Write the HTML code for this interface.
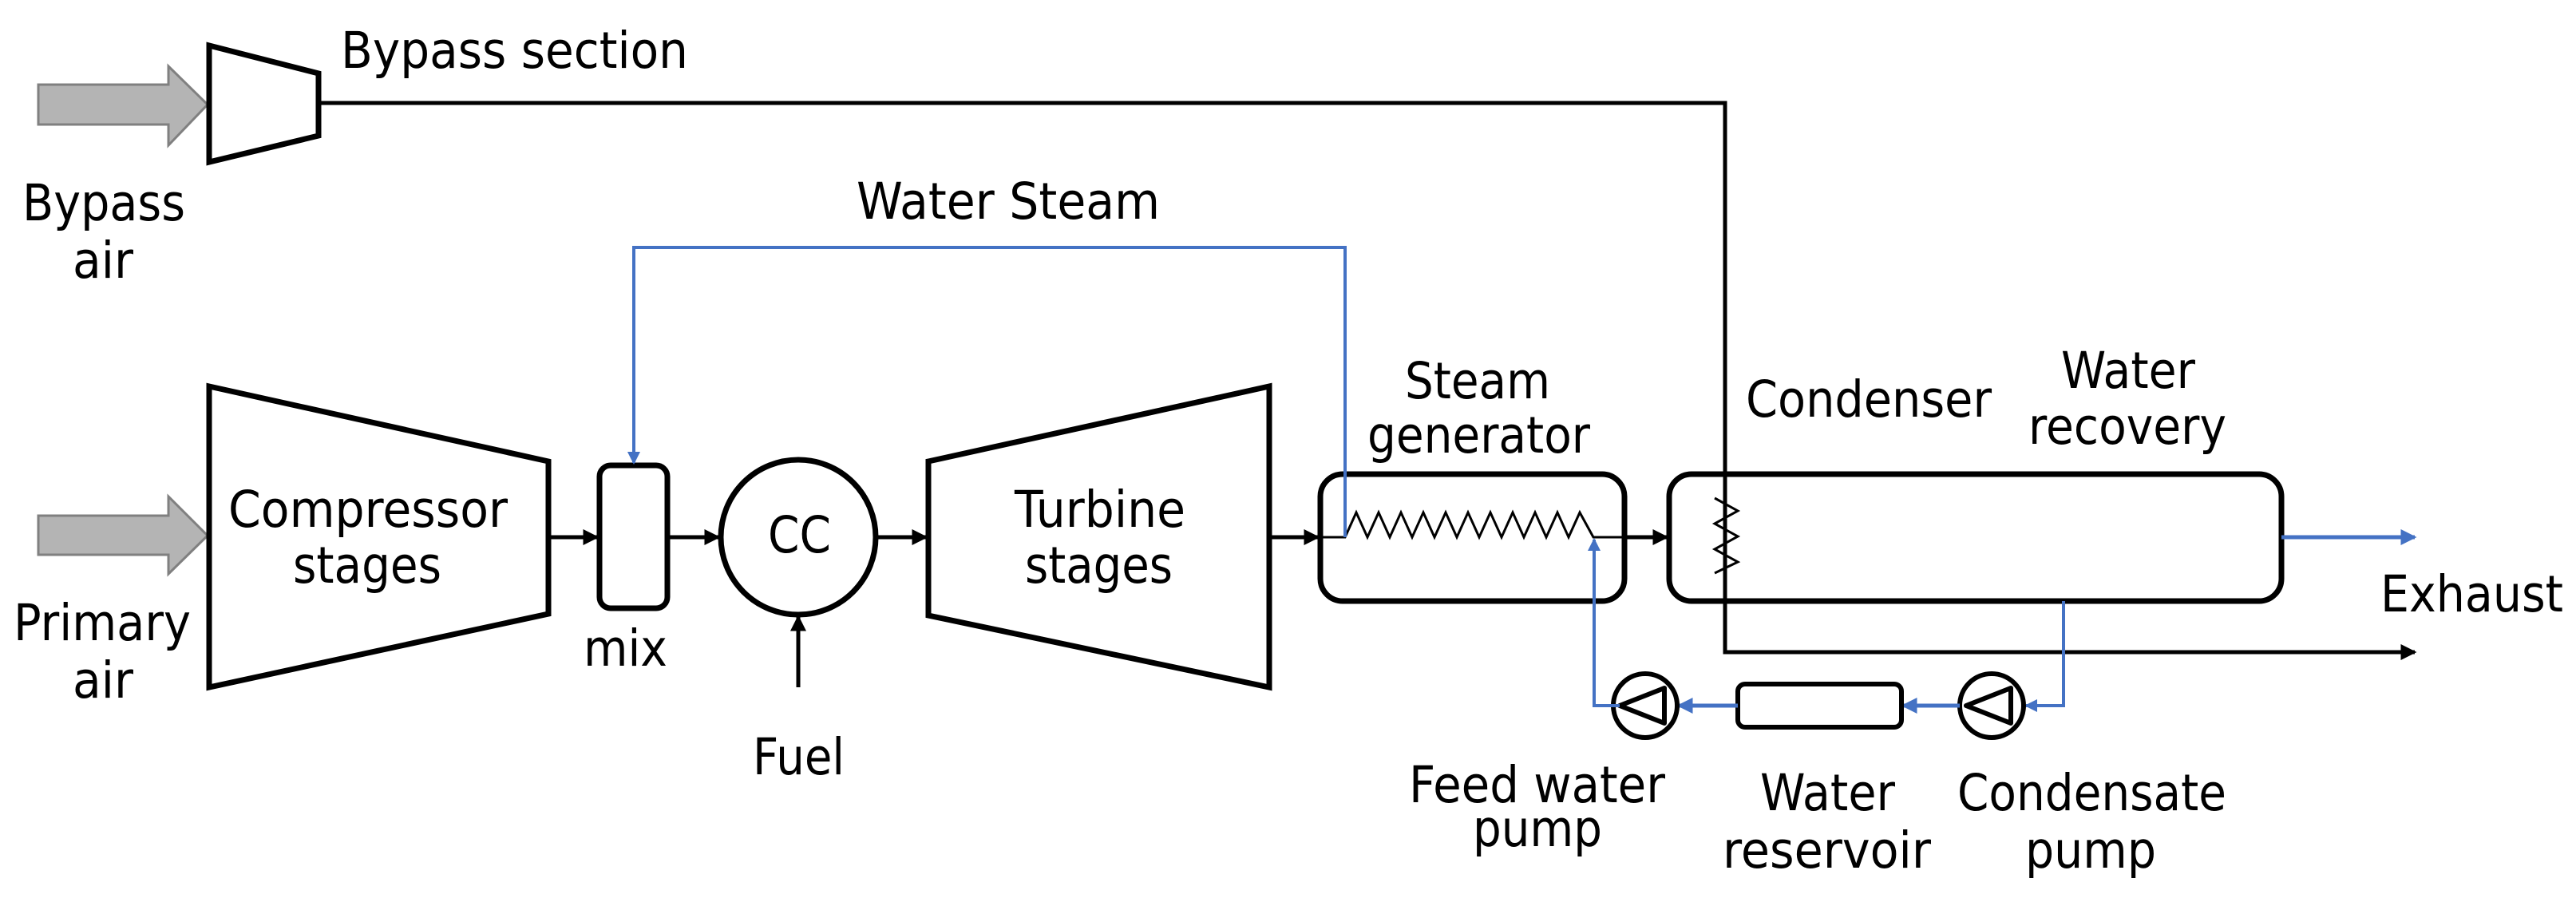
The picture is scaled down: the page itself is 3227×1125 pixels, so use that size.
<!DOCTYPE html>
<html><head><meta charset="utf-8"><style>
html,body{margin:0;padding:0;background:#fff;}
svg{display:block;}
text{font-family:"DejaVu Sans","Liberation Sans",sans-serif;font-size:63px;fill:#000;}
</style></head><body>
<svg width="3227" height="1125" viewBox="0 0 3227 1125" xmlns="http://www.w3.org/2000/svg">
<defs>
<marker id="ab" markerWidth="4" markerHeight="4" refX="3.5" refY="2" orient="auto" markerUnits="strokeWidth"><path d="M0,0 L4,2 L0,4 z" fill="#000"/></marker>
<marker id="abl" markerWidth="4" markerHeight="4" refX="3.5" refY="2" orient="auto" markerUnits="strokeWidth"><path d="M0,0 L4,2 L0,4 z" fill="#4472C4"/></marker>
</defs>
<polygon points="48,106 211,106 211,83 260,131 211,182 211,156 48,156" fill="#b4b4b4" stroke="#808080" stroke-width="3"/>
<polygon points="48,646 211,646 211,622 260,671 211,719 211,695 48,695" fill="#b4b4b4" stroke="#808080" stroke-width="3"/>
<polygon points="262,57 399,92 399,170 262,203" fill="#fff" stroke="#000" stroke-width="7"/>
<polyline points="399,129 2161,129 2161,817 3025,817" fill="none" stroke="#000" stroke-width="5" marker-end="url(#ab)"/>
<polygon points="262,484 687,578 687,769 262,861" fill="#fff" stroke="#000" stroke-width="7"/>
<line x1="687" y1="673" x2="748" y2="673" stroke="#000" stroke-width="5" marker-end="url(#ab)"/>
<rect x="751" y="583" width="85" height="179" rx="14" fill="#fff" stroke="#000" stroke-width="7"/>
<line x1="836" y1="673" x2="900" y2="673" stroke="#000" stroke-width="5" marker-end="url(#ab)"/>
<circle cx="1000" cy="673" r="97" fill="#fff" stroke="#000" stroke-width="7"/>
<line x1="1000" y1="861" x2="1000" y2="773" stroke="#000" stroke-width="5" marker-end="url(#ab)"/>
<line x1="1099" y1="673" x2="1160" y2="673" stroke="#000" stroke-width="5" marker-end="url(#ab)"/>
<polygon points="1163,578 1590,484 1590,861 1163,771" fill="#fff" stroke="#000" stroke-width="7"/>
<line x1="1590" y1="673" x2="1651" y2="673" stroke="#000" stroke-width="5" marker-end="url(#ab)"/>
<rect x="1654" y="594" width="381" height="159" rx="28" fill="#fff" stroke="#000" stroke-width="7"/>
<polyline points="1654,673 1685,673 1699,642 1713,673 1727,642 1741,673 1755,642 1769,673 1783,642 1797,673 1811,642 1825,673 1839,642 1853,673 1867,642 1881,673 1895,642 1909,673 1923,642 1937,673 1951,642 1965,673 1979,642 1996,673 2035,673" fill="none" stroke="#000" stroke-width="3"/>
<line x1="2035" y1="673" x2="2088" y2="673" stroke="#000" stroke-width="5" marker-end="url(#ab)"/>
<rect x="2091" y="594" width="767" height="159" rx="28" fill="#fff" stroke="#000" stroke-width="7"/>
<line x1="2161" y1="594" x2="2161" y2="753" stroke="#000" stroke-width="5"/>
<polyline points="2148,624 2177,640 2148,656 2177,672 2148,688 2177,704 2148,718" fill="none" stroke="#000" stroke-width="3"/>
<polyline points="1685,673 1685,310 794,310 794,580" fill="none" stroke="#4472C4" stroke-width="4" marker-end="url(#abl)"/>
<line x1="2858" y1="673" x2="3025" y2="673" stroke="#4472C4" stroke-width="5" marker-end="url(#abl)"/>
<polyline points="2585,753 2585,884 2538,884" fill="none" stroke="#4472C4" stroke-width="4" marker-end="url(#abl)"/>
<circle cx="2495" cy="884" r="40" fill="#fff" stroke="#000" stroke-width="6"/>
<polygon points="2463,884 2519,862 2519,906" fill="none" stroke="#000" stroke-width="6" stroke-linejoin="round"/>
<line x1="2455" y1="884" x2="2384" y2="884" stroke="#4472C4" stroke-width="5" marker-end="url(#abl)"/>
<rect x="2177" y="857" width="205" height="54" rx="9" fill="#fff" stroke="#000" stroke-width="6"/>
<line x1="2177" y1="884" x2="2103" y2="884" stroke="#4472C4" stroke-width="5" marker-end="url(#abl)"/>
<circle cx="2061" cy="884" r="40" fill="#fff" stroke="#000" stroke-width="6"/>
<polygon points="2029,884 2085,862 2085,906" fill="none" stroke="#000" stroke-width="6" stroke-linejoin="round"/>
<polyline points="2029,884 1997,884 1997,676" fill="none" stroke="#4472C4" stroke-width="4" marker-end="url(#abl)"/>
<text x="427" y="85" textLength="435" lengthAdjust="spacingAndGlyphs">Bypass section</text>
<text x="28" y="276" textLength="204" lengthAdjust="spacingAndGlyphs">Bypass</text>
<text x="91" y="348" textLength="76" lengthAdjust="spacingAndGlyphs">air</text>
<text x="1073" y="274" textLength="380" lengthAdjust="spacingAndGlyphs">Water Steam</text>
<text x="286" y="660" textLength="350" lengthAdjust="spacingAndGlyphs">Compressor</text>
<text x="367" y="730" textLength="186" lengthAdjust="spacingAndGlyphs">stages</text>
<text x="731" y="834" textLength="105" lengthAdjust="spacingAndGlyphs">mix</text>
<text x="962" y="692" textLength="79" lengthAdjust="spacingAndGlyphs">CC</text>
<text x="1271" y="660" textLength="214" lengthAdjust="spacingAndGlyphs">Turbine</text>
<text x="1284" y="730" textLength="185" lengthAdjust="spacingAndGlyphs">stages</text>
<text x="17" y="802" textLength="222" lengthAdjust="spacingAndGlyphs">Primary</text>
<text x="91" y="874" textLength="76" lengthAdjust="spacingAndGlyphs">air</text>
<text x="943" y="970" textLength="115" lengthAdjust="spacingAndGlyphs">Fuel</text>
<text x="1760" y="499" textLength="182" lengthAdjust="spacingAndGlyphs">Steam</text>
<text x="1713" y="567" textLength="279" lengthAdjust="spacingAndGlyphs">generator</text>
<text x="2187" y="522" textLength="308" lengthAdjust="spacingAndGlyphs">Condenser</text>
<text x="2582" y="486" textLength="168" lengthAdjust="spacingAndGlyphs">Water</text>
<text x="2541" y="556" textLength="248" lengthAdjust="spacingAndGlyphs">recovery</text>
<text x="2982" y="766" textLength="229" lengthAdjust="spacingAndGlyphs">Exhaust</text>
<text x="1765" y="1005" textLength="321" lengthAdjust="spacingAndGlyphs">Feed water</text>
<text x="1845" y="1060" textLength="162" lengthAdjust="spacingAndGlyphs">pump</text>
<text x="2205" y="1015" textLength="169" lengthAdjust="spacingAndGlyphs">Water</text>
<text x="2158" y="1087" textLength="261" lengthAdjust="spacingAndGlyphs">reservoir</text>
<text x="2452" y="1015" textLength="337" lengthAdjust="spacingAndGlyphs">Condensate</text>
<text x="2537" y="1087" textLength="164" lengthAdjust="spacingAndGlyphs">pump</text>
</svg>
</body></html>
